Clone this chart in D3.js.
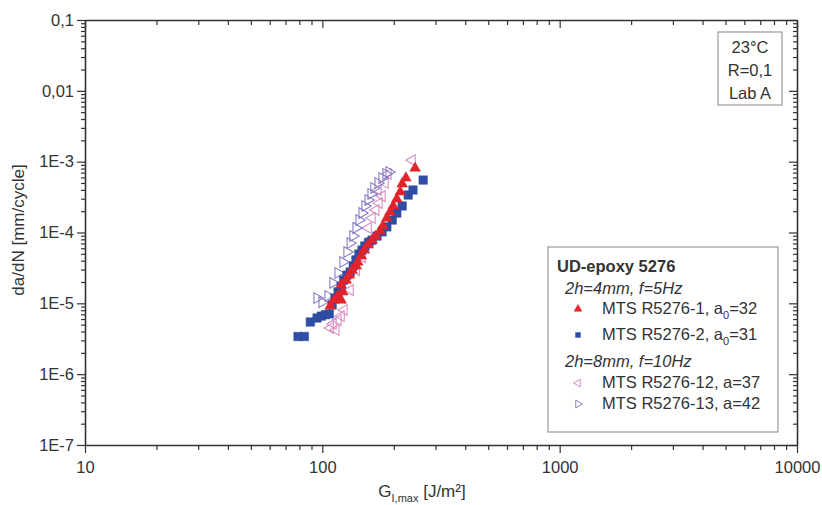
<!DOCTYPE html>
<html>
<head>
<meta charset="utf-8">
<script src="https://cdn.jsdelivr.net/npm/d3@7"></script>
<style>
  body { margin: 0; background: #fff; }
  text { font-family: Arial, "Liberation Sans", sans-serif; fill: #333; }
</style>
</head>
<body>
<div class="chart"></div>
<script>
// crack growth data
var r1G = [108, 112, 116.5, 120, 122, 120, 126, 130, 133.5, 139, 141, 146, 150, 156, 162, 168, 175, 180, 187, 193, 199, 206, 213, 217, 225, 246];
var r1V = [9.2e-6, 1.11e-5, 1.27e-5, 1.11e-5, 1.45e-5, 1.82e-5, 2.13e-5, 2.51e-5, 2.95e-5, 3.37e-5, 3.83e-5, 4.66e-5, 5.66e-5, 6.66e-5, 7.83e-5, 8.9e-5, 1.05e-4, 1.24e-4, 1.6e-4, 1.95e-4, 2.37e-4, 2.97e-4, 3.73e-4, 4.84e-4, 5.88e-4, 8.1e-4];

var r2G = [79, 84, 89, 95, 99, 103, 107, 110, 113, 116.5, 120, 123, 127, 131, 135, 138.5, 142.5, 147, 151, 157, 162, 170, 178.5, 187, 197, 206, 217, 230, 241, 266];
var r2V = [3.4e-6, 3.4e-6, 5.45e-6, 6.2e-6, 6.6e-6, 6.9e-6, 7.1e-6, 9.5e-6, 1.19e-5, 1.45e-5, 1.75e-5, 2.13e-5, 2.5e-5, 2.77e-5, 3.37e-5, 4.1e-5, 4.97e-5, 5.66e-5, 6.45e-5, 7.3e-5, 7.8e-5, 8.9e-5, 1.02e-4, 1.2e-4, 1.5e-4, 1.88e-4, 2.37e-4, 3.38e-4, 3.98e-4, 5.5e-4];

var r12G = [108, 111, 114, 116.5, 120, 123.4, 131, 139, 147, 152.8, 158.9, 156, 162, 168, 173.4, 178.5, 171.7, 183.8, 189.1, 238.8];
var r12V = [4.49e-6, 5.1e-6, 4.2e-6, 5.8e-6, 6.6e-6, 8.05e-6, 1.54e-5, 2.95e-5, 4.5e-5, 6.04e-5, 7.83e-5, 1.16e-4, 1.6e-4, 2.08e-4, 2.6e-4, 3.27e-4, 3.98e-4, 5.0e-4, 6.7e-4, 1.05e-3];

var r13G = [95, 99.7, 105.7, 110.9, 116.5, 122.2, 127, 131, 134.6, 138.7, 142.8, 147, 151.4, 156, 160.4, 165, 171.7, 178.5, 185.5, 191];
var r13V = [1.19e-5, 1.04e-5, 1.27e-5, 1.94e-5, 2.68e-5, 3.83e-5, 5.3e-5, 7.1e-5, 8.9e-5, 1.16e-4, 1.5e-4, 1.88e-4, 2.37e-4, 2.88e-4, 3.5e-4, 4.25e-4, 5.0e-4, 5.88e-4, 6.7e-4, 7.15e-4];

var yMajor = [0.1, 0.01, 1e-3, 1e-4, 1e-5, 1e-6, 1e-7];
var yLabels = ["0,1", "0,01", "1E-3", "1E-4", "1E-5", "1E-6", "1E-7"];
var infoLines = ["23°C", "R=0,1", "Lab A"];

var width = 822, height = 505;
var mLeft = 85, mRight = 797, mTop = 20, mBottom = 445;

var svg = d3.select(".chart").append("svg")
    .attr("width", width)
    .attr("height", height);

var x = d3.scaleLog().domain([10, 10000]).range([mLeft, mRight]);
var y = d3.scaleLog().domain([1e-7, 0.1]).range([mBottom, mTop]);

function allTicks(lo, hi) {
    var t = [];
    for (var p = lo; p < hi * 0.99; p *= 10)
        for (var k = 1; k < 10; k++) t.push(p * k);
    t.push(hi);
    return t;
}
function isMajor(v) {
    var l = Math.log10(v);
    return Math.abs(l - Math.round(l)) < 1e-6;
}

var xt = allTicks(10, 10000);
var yt = allTicks(1e-7, 0.1);

function styleAxis(g, attr, minor) {
    g.select(".domain").attr("stroke", "#333").attr("stroke-width", 1.6);
    g.selectAll(".tick line").attr("stroke", "#333").attr("stroke-width", 1.2);
    g.selectAll(".tick").filter(d => !isMajor(d)).select("line").attr(attr, minor);
    g.selectAll(".tick text").attr("font-size", 16.5).attr("fill", "#333");
}

//bottom
var gx = svg.append("g").attr("transform", `translate(0,${mBottom})`)
    .call(d3.axisBottom(x).tickValues(xt).tickSize(8).tickSizeOuter(0)
        .tickFormat(d => isMajor(d) ? d3.format("d")(d) : ""));
styleAxis(gx, "y2", 5);
gx.selectAll(".tick text").attr("dy", "1.05em");

//top
var gxt = svg.append("g").attr("transform", `translate(0,${mTop})`)
    .call(d3.axisTop(x).tickValues(xt).tickSize(-8).tickSizeOuter(0).tickFormat(""));
styleAxis(gxt, "y2", 5);

//left
var gy = svg.append("g").attr("transform", `translate(${mLeft},0)`)
    .call(d3.axisLeft(y).tickValues(yt).tickSize(8).tickSizeOuter(0)
        .tickFormat(d => isMajor(d) ? yLabels[yMajor.findIndex(m => Math.abs(m / d - 1) < 1e-6)] : ""));
styleAxis(gy, "x2", -4);
gy.selectAll(".tick text").attr("x", -11);

//right
var gyr = svg.append("g").attr("transform", `translate(${mRight},0)`)
    .call(d3.axisRight(y).tickValues(yt).tickSize(-8).tickSizeOuter(0).tickFormat(""));
styleAxis(gyr, "x2", -4);

// axis titles
var xTitle = svg.append("text")
    .attr("x", 422).attr("y", 497)
    .attr("text-anchor", "middle")
    .attr("font-size", 17);
xTitle.append("tspan").text("G");
xTitle.append("tspan").attr("font-size", 11).attr("dy", 5).text("I,max");
xTitle.append("tspan").attr("dy", -5).text(" [J/m²]");

svg.append("text")
    .attr("transform", "translate(24,230) rotate(-90)")
    .attr("text-anchor", "middle")
    .attr("font-size", 17)
    .text("da/dN [mm/cycle]");

// series
var series = [
    { name: "MTS R5276-1, a", sub: "0", tail: "=32", G: r1G, V: r1V, type: "up", color: "#e2232b", fill: true },
    { name: "MTS R5276-2, a", sub: "0", tail: "=31", G: r2G, V: r2V, type: "square", color: "#2f4da3", fill: true },
    { name: "MTS R5276-12, a=37", sub: "", tail: "", G: r12G, V: r12V, type: "left", color: "#d68ec2", fill: false },
    { name: "MTS R5276-13, a=42", sub: "", tail: "", G: r13G, V: r13V, type: "right", color: "#877dc4", fill: false }
];

function rotOf(s) { return s.type == "left" ? -90 : s.type == "right" ? 90 : 0; }
function symOf(s) { return s.type == "square" ? d3.symbolSquare : d3.symbolTriangle; }

// open markers first, then blue, red on top
[2, 3, 1, 0].forEach(function (i) {
    var s = series[i];
    var pts = s.G.map((g, j) => [g, s.V[j]]);
    var size = s.type == "square" ? 72 : 50;
    svg.append("g")
        .selectAll("path")
        .data(pts)
        .join("path")
        .attr("transform", d => `translate(${x(d[0])},${y(d[1])}) rotate(${rotOf(s)})`)
        .attr("d", d3.symbol().type(symOf(s)).size(size))
        .attr("fill", s.fill ? s.color : "none")
        .attr("stroke", s.color)
        .attr("stroke-width", s.fill ? 0.5 : 1.1);
});

// info box
svg.append("rect")
    .attr("x", 718).attr("y", 32).attr("width", 64).attr("height", 73)
    .attr("fill", "#fff").attr("stroke", "#999").attr("stroke-width", 1.2);
svg.append("g").selectAll("text")
    .data(infoLines)
    .join("text")
    .attr("x", 750)
    .attr("y", (d, i) => 53 + i * 23)
    .attr("text-anchor", "middle")
    .attr("font-size", 16.5)
    .text(d => d);

// legend
var lg = svg.append("g");
lg.append("rect")
    .attr("x", 548).attr("y", 247).attr("width", 230).attr("height", 185)
    .attr("fill", "#fff").attr("stroke", "#999").attr("stroke-width", 1.2);
lg.append("text").attr("x", 557).attr("y", 272)
    .attr("font-size", 16.5).attr("font-weight", "bold").attr("fill", "#222")
    .text("UD-epoxy 5276");
lg.append("text").attr("x", 565).attr("y", 294)
    .attr("font-size", 16.5).attr("font-style", "italic")
    .text("2h=4mm, f=5Hz");
lg.append("text").attr("x", 565).attr("y", 367)
    .attr("font-size", 16.5).attr("font-style", "italic")
    .text("2h=8mm, f=10Hz");

var rowsY = [314, 340, 388, 409];
series.forEach(function (s, i) {
    var size = s.type == "square" ? 24 : 26;
    lg.append("path")
        .attr("transform", `translate(578,${rowsY[i] - 5}) rotate(${rotOf(s)})`)
        .attr("d", d3.symbol().type(symOf(s)).size(size))
        .attr("fill", s.fill ? s.color : "none")
        .attr("stroke", s.color)
        .attr("stroke-width", s.fill ? 0.5 : 1);
    var t = lg.append("text").attr("x", 602).attr("y", rowsY[i]).attr("font-size", 16.5);
    t.append("tspan").text(s.name);
    if (s.sub) {
        t.append("tspan").attr("font-size", 11).attr("dy", 5).text(s.sub);
        t.append("tspan").attr("dy", -5).text(s.tail);
    }
});
</script>
</body>
</html>
